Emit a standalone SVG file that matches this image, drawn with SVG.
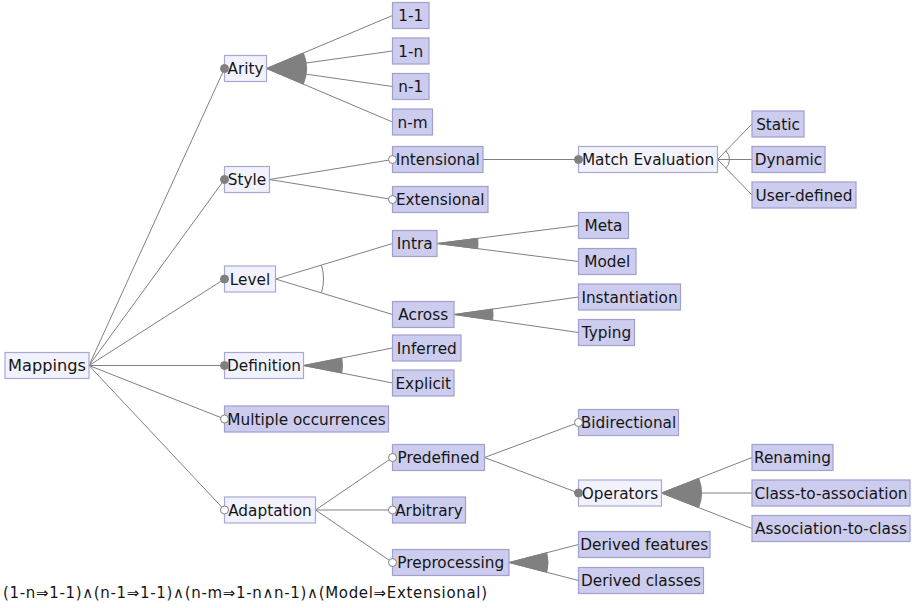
<svg xmlns="http://www.w3.org/2000/svg" width="912" height="608" viewBox="0 0 912 608">
<style>
  .box { fill: #ccccee; stroke: #9f9fd0; stroke-width: 1.2; }
  .abs { fill: #f2f2fc; stroke: #a8a8d6; stroke-width: 1.2; }
  text { font-family: "DejaVu Sans", Verdana, sans-serif; font-size: 15.3px; fill: #151515; text-anchor: middle; }
  .root { font-size: 16.2px; }
  .formula { text-anchor: start; font-size: 15px; }
  .edge { stroke: #808080; stroke-width: 1; fill: none; }
  .wedge { fill: #808080; stroke: #808080; stroke-width: 1; }
  .arc { fill: none; stroke: #808080; stroke-width: 1; }
  .mand { fill: #808080; stroke: #808080; stroke-width: 1; }
  .opt { fill: #ffffff; stroke: #808080; stroke-width: 1; }
</style>
<rect width="912" height="608" fill="#ffffff"/>
<g id="connectors">
  <path class="edge" d="M89,365.5 L224.5,68.5 M89,365.5 L224.5,179.5 M89,365.5 L224.5,279 M89,365.5 L224.5,365.5 M89,365.5 L224.5,419 M89,365.5 L224.5,510"/>
  <path class="edge" d="M266.5,68.5 L392.5,15.5 M266.5,68.5 L392.5,51 M266.5,68.5 L392.5,86.5 M266.5,68.5 L392.5,122"/>
  <path class="wedge" d="M266.5,68.5 L303.4,53 A40,40 0 0 1 303.3,84.1 Z"/>
  <path class="edge" d="M269.5,179.5 L392.5,159.5 M269.5,179.5 L392.5,199.5"/>
  <path class="edge" d="M483,159.5 L578.5,159.5"/>
  <path class="edge" d="M717.5,159.5 L752,124 M717.5,159.5 L752,159.5 M717.5,159.5 L752,195"/>
  <path class="arc" d="M725.86,150.89 A12,12 0 0 1 725.86,168.11"/>
  <path class="edge" d="M275.5,279 L392.5,243.5 M275.5,279 L392.5,314.5"/>
  <path class="arc" d="M321.43,265.06 A48,48 0 0 1 321.43,292.94"/>
  <path class="edge" d="M437,243.5 L578.5,225.5 M437,243.5 L578.5,261.5"/>
  <path class="wedge" d="M437,243.5 L477.67,238.33 A41,41 0 0 1 477.67,248.67 Z"/>
  <path class="edge" d="M454,314.5 L578.5,297 M454,314.5 L578.5,332.5"/>
  <path class="wedge" d="M454,314.5 L492.62,309.07 A39,39 0 0 1 492.6,320.08 Z"/>
  <path class="edge" d="M303.5,365.5 L392.5,348 M303.5,365.5 L392.5,383"/>
  <path class="wedge" d="M303.5,365.5 L341.77,357.98 A39,39 0 0 1 341.77,373.02 Z"/>
  <path class="edge" d="M315.5,510 L392.5,457.5 M315.5,510 L392.5,510 M315.5,510 L392.5,562.5"/>
  <path class="edge" d="M484.5,457.5 L578.5,422.5 M484.5,457.5 L578.5,493"/>
  <path class="edge" d="M661.5,493 L752,457.5 M661.5,493 L752,493 M661.5,493 L752,528.5"/>
  <path class="wedge" d="M661.5,493 L698.74,478.39 A40,40 0 0 1 698.74,507.61 Z"/>
  <path class="edge" d="M509,562.5 L578.5,544.5 M509,562.5 L578.5,580.5"/>
  <path class="wedge" d="M509,562.5 L546.76,552.72 A39,39 0 0 1 546.76,572.28 Z"/>
</g>
<g id="node-mappings"><rect class="abs" x="5" y="352.5" width="84" height="26"/><text class="root" x="47" y="371.3">Mappings</text></g>
<g id="node-arity"><rect class="abs" x="224.5" y="55.5" width="42" height="26"/><text x="245.5" y="74">Arity</text><circle class="mand" cx="224.5" cy="68.5" r="4"/></g>
<g id="node-1-1"><rect class="box" x="392.5" y="2.5" width="36.5" height="26"/><text x="410.75" y="21">1-1</text></g>
<g id="node-1-n"><rect class="box" x="392.5" y="38" width="36.5" height="26"/><text x="410.75" y="56.5">1-n</text></g>
<g id="node-n-1"><rect class="box" x="392.5" y="73.5" width="36.5" height="26"/><text x="410.75" y="92">n-1</text></g>
<g id="node-n-m"><rect class="box" x="392.5" y="109" width="40" height="26"/><text x="412.5" y="127.5">n-m</text></g>
<g id="node-style"><rect class="abs" x="224.5" y="166.5" width="45" height="26"/><text x="247" y="185">Style</text><circle class="mand" cx="224.5" cy="179.5" r="4"/></g>
<g id="node-intensional"><rect class="box" x="392.5" y="146.5" width="90.5" height="26"/><text x="437.75" y="165">Intensional</text><circle class="opt" cx="392.5" cy="159.5" r="4"/></g>
<g id="node-extensional"><rect class="box" x="392.5" y="186.5" width="95.5" height="26"/><text x="440.25" y="205">Extensional</text><circle class="opt" cx="392.5" cy="199.5" r="4"/></g>
<g id="node-match-evaluation"><rect class="abs" x="578.5" y="146.5" width="139" height="26"/><text x="648" y="165">Match Evaluation</text><circle class="mand" cx="578.5" cy="159.5" r="4"/></g>
<g id="node-static"><rect class="box" x="752" y="111" width="52" height="26"/><text x="778" y="129.5">Static</text></g>
<g id="node-dynamic"><rect class="box" x="752" y="146.5" width="73" height="26"/><text x="788.5" y="165">Dynamic</text></g>
<g id="node-user-defined"><rect class="box" x="752" y="182" width="104" height="26"/><text x="804" y="200.5">User-defined</text></g>
<g id="node-level"><rect class="abs" x="224.5" y="266" width="51" height="26"/><text x="250" y="284.5">Level</text><circle class="mand" cx="224.5" cy="279" r="4"/></g>
<g id="node-intra"><rect class="box" x="392.5" y="230.5" width="44.5" height="26"/><text x="414.75" y="249">Intra</text></g>
<g id="node-across"><rect class="box" x="392.5" y="301.5" width="61.5" height="26"/><text x="423.25" y="320">Across</text></g>
<g id="node-meta"><rect class="box" x="578.5" y="212.5" width="50" height="26"/><text x="603.5" y="231">Meta</text></g>
<g id="node-model"><rect class="box" x="578.5" y="248.5" width="57.5" height="26"/><text x="607.25" y="267">Model</text></g>
<g id="node-instantiation"><rect class="box" x="578.5" y="284" width="102" height="26"/><text x="629.5" y="302.5">Instantiation</text></g>
<g id="node-typing"><rect class="box" x="578.5" y="319.5" width="56" height="26"/><text x="606.5" y="338">Typing</text></g>
<g id="node-definition"><rect class="abs" x="224.5" y="352.5" width="79" height="26"/><text x="264" y="371">Definition</text><circle class="mand" cx="224.5" cy="365.5" r="4"/></g>
<g id="node-inferred"><rect class="box" x="392.5" y="335" width="68.5" height="26"/><text x="426.75" y="353.5">Inferred</text></g>
<g id="node-explicit"><rect class="box" x="392.5" y="370" width="61.5" height="26"/><text x="423.25" y="388.5">Explicit</text></g>
<g id="node-multiple-occurrences"><rect class="box" x="224.5" y="406" width="164" height="26"/><text x="306.5" y="424.5">Multiple occurrences</text><circle class="opt" cx="224.5" cy="419" r="4"/></g>
<g id="node-adaptation"><rect class="abs" x="224.5" y="497" width="91" height="26"/><text x="270" y="515.5">Adaptation</text><circle class="opt" cx="224.5" cy="510" r="4"/></g>
<g id="node-predefined"><rect class="box" x="392.5" y="444.5" width="92" height="26"/><text x="438.5" y="463">Predefined</text><circle class="opt" cx="392.5" cy="457.5" r="4"/></g>
<g id="node-arbitrary"><rect class="box" x="392.5" y="497" width="73" height="26"/><text x="429" y="515.5">Arbitrary</text><circle class="opt" cx="392.5" cy="510" r="4"/></g>
<g id="node-preprocessing"><rect class="box" x="392.5" y="549.5" width="116.5" height="26"/><text x="450.75" y="568">Preprocessing</text><circle class="opt" cx="392.5" cy="562.5" r="4"/></g>
<g id="node-bidirectional"><rect class="box" x="578.5" y="409.5" width="100" height="26"/><text x="628.5" y="428">Bidirectional</text><circle class="opt" cx="578.5" cy="422.5" r="4"/></g>
<g id="node-operators"><rect class="abs" x="578.5" y="480" width="83" height="26"/><text x="620" y="498.5">Operators</text><circle class="mand" cx="578.5" cy="493" r="4"/></g>
<g id="node-renaming"><rect class="box" x="752" y="444.5" width="81" height="26"/><text x="792.5" y="463">Renaming</text></g>
<g id="node-class-to-association"><rect class="box" x="752" y="480" width="158" height="26"/><text x="831" y="498.5">Class-to-association</text></g>
<g id="node-association-to-class"><rect class="box" x="752" y="515.5" width="158" height="26"/><text x="831" y="534">Association-to-class</text></g>
<g id="node-derived-features"><rect class="box" x="578.5" y="531.5" width="131.5" height="26"/><text x="644.25" y="550">Derived features</text></g>
<g id="node-derived-classes"><rect class="box" x="578.5" y="567.5" width="125" height="26"/><text x="641" y="586">Derived classes</text></g>
<text class="formula" x="3" y="598" textLength="484" lengthAdjust="spacing">(1-n⇒1-1)∧(n-1⇒1-1)∧(n-m⇒1-n∧n-1)∧(Model⇒Extensional)</text>
</svg>
